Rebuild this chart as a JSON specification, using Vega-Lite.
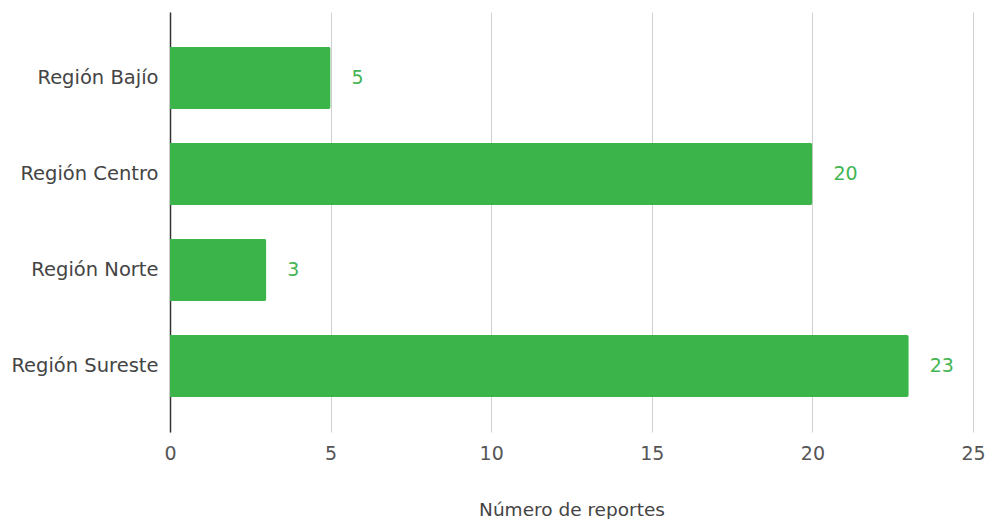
{
  "$schema": "https://vega.github.io/schema/vega-lite/v6.json",
  "autosize": {"type": "none"},
  "width": 803,
  "height": 420,
  "padding": {"left": 170, "top": 12, "right": 15, "bottom": 87},
  "background": "white",
  "config": {"view": {"stroke": null}, "font": "DejaVu Sans"},
  "data": {"values": [
    {"region": "Región Bajío", "reportes": 5},
    {"region": "Región Centro", "reportes": 20},
    {"region": "Región Norte", "reportes": 3},
    {"region": "Región Sureste", "reportes": 23}
  ]},
  "encoding": {
    "y": {"field": "region", "type": "nominal", "sort": null,
      "scale": {"paddingInner": 0.354, "paddingOuter": 0.364},
      "axis": {"title": null, "ticks": false, "domainColor": "#333333", "domainWidth": 1.5, "labelFontSize": 19.5, "labelColor": "#444444", "labelPadding": 12, "grid": false}},
    "x": {"field": "reportes", "type": "quantitative",
      "scale": {"domain": [0, 25], "nice": false},
      "axis": {"title": "Número de reportes", "values": [0, 5, 10, 15, 20, 25], "domain": false, "ticks": false, "grid": true, "gridColor": "#d0d0d0", "labelFlush": false, "labelFontSize": 19, "labelColor": "#555555", "labelPadding": 12, "titleFontSize": 18.5, "titleFontWeight": "normal", "titleColor": "#444444", "titlePadding": 37}}
  },
  "layer": [
    {"mark": {"type": "bar", "color": "#3bb54a", "cornerRadiusEnd": 2}},
    {"mark": {"type": "text", "align": "left", "dx": 21, "fontSize": 19, "color": "#45b554"},
     "encoding": {"text": {"field": "reportes", "type": "quantitative"}}}
  ]
}
